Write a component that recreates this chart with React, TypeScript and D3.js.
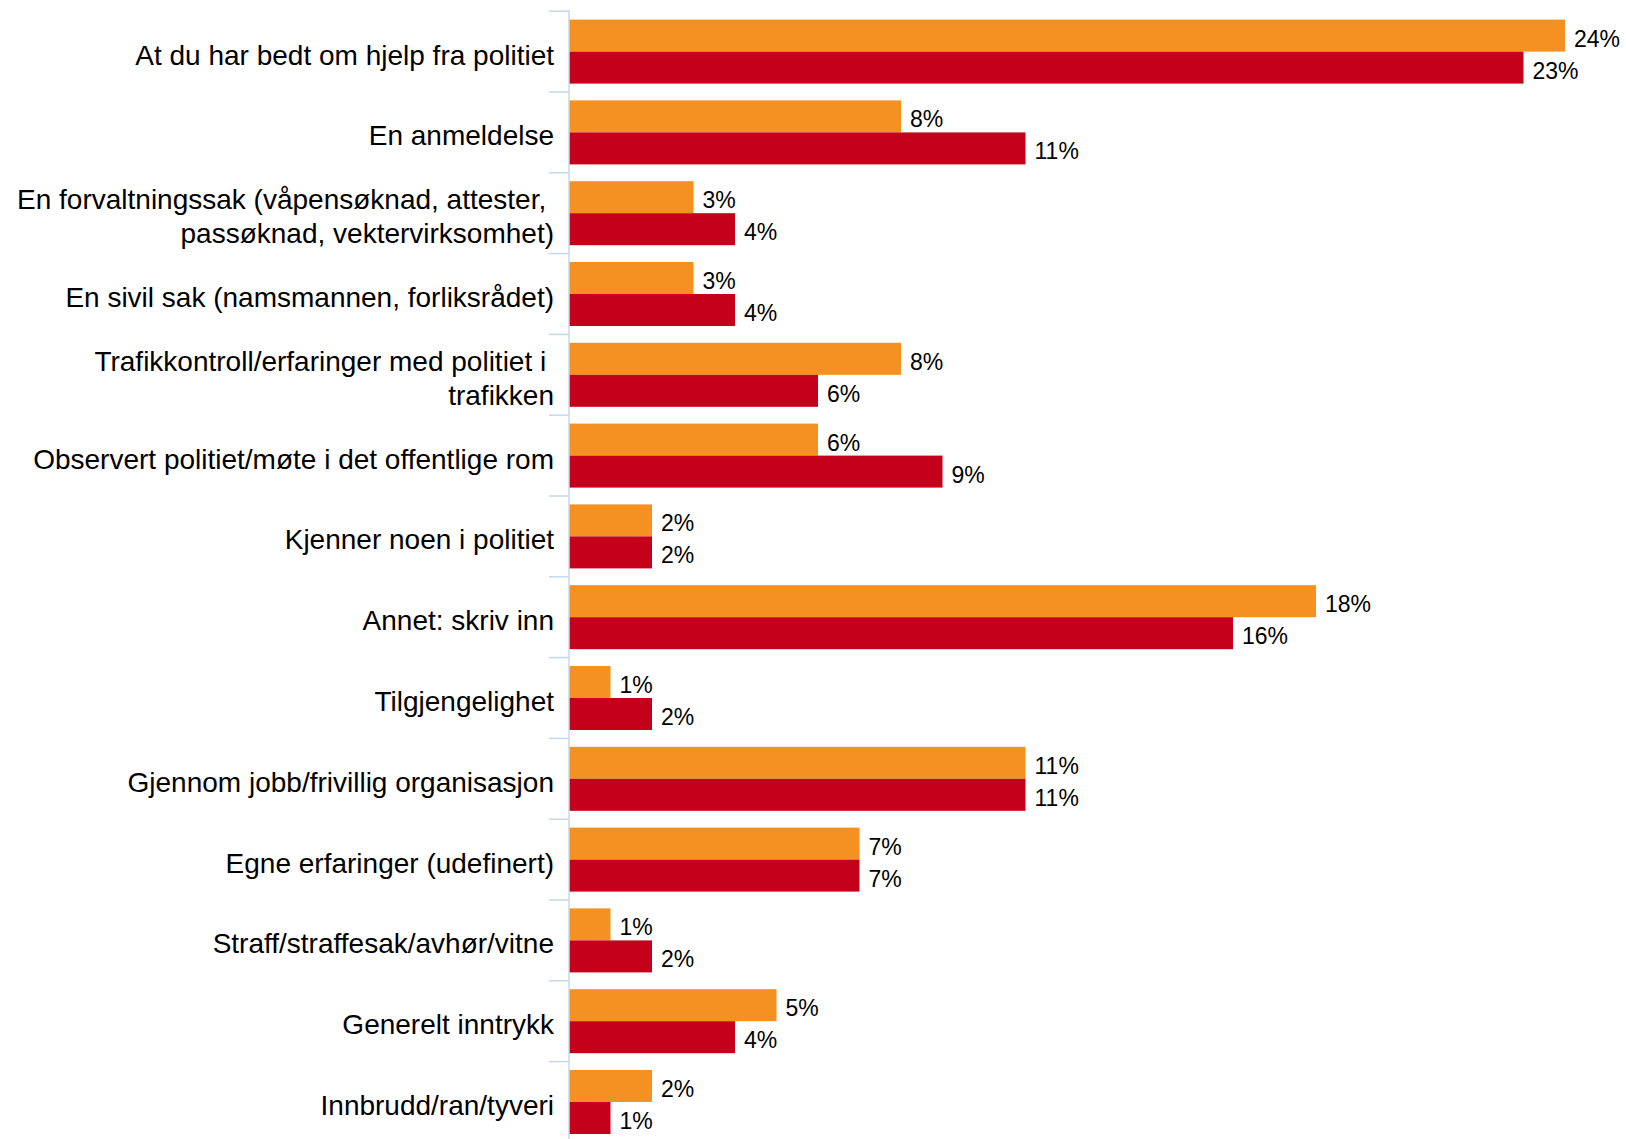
import React, { useEffect, useRef } from "react";
import * as d3 from "d3";

// category labels, one array entry per line (trailing space kept as in the source chart)
const categories: string[][] = [
  ["At du har bedt om hjelp fra politiet"],
  ["En anmeldelse"],
  ["En forvaltningssak (våpensøknad, attester, ", "passøknad, vektervirksomhet)"],
  ["En sivil sak (namsmannen, forliksrådet)"],
  ["Trafikkontroll/erfaringer med politiet i ", "trafikken"],
  ["Observert politiet/møte i det offentlige rom"],
  ["Kjenner noen i politiet"],
  ["Annet: skriv inn"],
  ["Tilgjengelighet"],
  ["Gjennom jobb/frivillig organisasjon"],
  ["Egne erfaringer (udefinert)"],
  ["Straff/straffesak/avhør/vitne"],
  ["Generelt inntrykk"],
  ["Innbrudd/ran/tyveri"],
];

const orangeValues = [24, 8, 3, 3, 8, 6, 2, 18, 1, 11, 7, 1, 5, 2];
const redValues = [23, 11, 4, 4, 6, 9, 2, 16, 2, 11, 7, 2, 4, 1];

const seriesKeys = ["orange", "red"];
const seriesColors = ["#F49120", "#C4001A"];

const width = 1626;
const height = 1139;

const App = () => {
  const ref = useRef<SVGSVGElement>(null);

  useEffect(() => {
    const svg = d3.select(ref.current);
    svg.selectAll("*").remove();

    const axisX = 569;
    const top = 11.2;
    const step = 80.8;
    const font = "'Liberation Sans', Arial, sans-serif";

    const ids = categories.map((_, i) => String(i));
    const yScale = d3.scaleBand()
      .domain(ids)
      .range([top, top + step * ids.length])
      .padding(0);

    const barH = 32;
    const inner = d3.scaleBand()
      .domain(seriesKeys)
      .range([yScale.bandwidth() / 2 - barH, yScale.bandwidth() / 2 + barH])
      .padding(0);

    const xScale = d3.scaleLinear()
      .domain([0, 24])
      .range([axisX, 1565]);

    const data = categories.map((lines, i) => ({
      id: String(i),
      lines,
      values: [orangeValues[i], redValues[i]],
    }));

    // bars
    const groups = svg.selectAll("g.cat")
      .data(data)
      .enter()
      .append("g")
      .attr("class", "cat")
      .attr("transform", (d) => "translate(0," + yScale(d.id) + ")");

    groups.selectAll("rect")
      .data((d) => d.values.map((v, j) => ({ key: seriesKeys[j], v, j })))
      .enter()
      .append("rect")
      .attr("x", xScale(0))
      .attr("y", (d) => inner(d.key) as number)
      .attr("width", (d) => xScale(d.v) - xScale(0))
      .attr("height", inner.bandwidth())
      .attr("fill", (d) => seriesColors[d.j]);

    groups.selectAll("text.val")
      .data((d) => d.values.map((v, j) => ({ key: seriesKeys[j], v })))
      .enter()
      .append("text")
      .attr("class", "val")
      .attr("x", (d) => xScale(d.v) + 9)
      .attr("y", (d) => (inner(d.key) as number) + inner.bandwidth() / 2 + 11)
      .style("font-family", font)
      .style("font-size", "23px")
      .style("fill", "#000")
      .text((d) => d.v + "%");

    // category labels
    const mid = yScale.bandwidth() / 2;
    const lineGap = 34;
    groups.append("text")
      .attr("class", "lbl")
      .attr("text-anchor", "end")
      .style("font-family", font)
      .style("font-size", "28px")
      .style("fill", "#000")
      .style("white-space", "pre")
      .selectAll("tspan")
      .data((d) => d.lines.map((l, k) => ({ l, k, n: d.lines.length })))
      .enter()
      .append("tspan")
      .attr("x", axisX - 15)
      .attr("y", (d) => mid + 13 - ((d.n - 1) * lineGap) / 2 + d.k * lineGap)
      .text((d) => d.l);

    // axis line and ticks at band boundaries
    const axisColor = "#C5D7EC";
    svg.append("line")
      .attr("x1", axisX)
      .attr("x2", axisX)
      .attr("y1", 10)
      .attr("y2", height)
      .attr("stroke", axisColor)
      .attr("stroke-width", 1.5);

    svg.selectAll("line.tick")
      .data(ids)
      .enter()
      .append("line")
      .attr("class", "tick")
      .attr("x1", axisX - 20)
      .attr("x2", axisX)
      .attr("y1", (d) => yScale(d) as number)
      .attr("y2", (d) => yScale(d) as number)
      .attr("stroke", axisColor)
      .attr("stroke-width", 1.5);
  }, []);

  return (
    <svg
      ref={ref}
      width={width}
      height={height}
      style={{ position: "absolute", left: 0, top: 0, background: "white", display: "block" }}
    />
  );
};

export default App;
